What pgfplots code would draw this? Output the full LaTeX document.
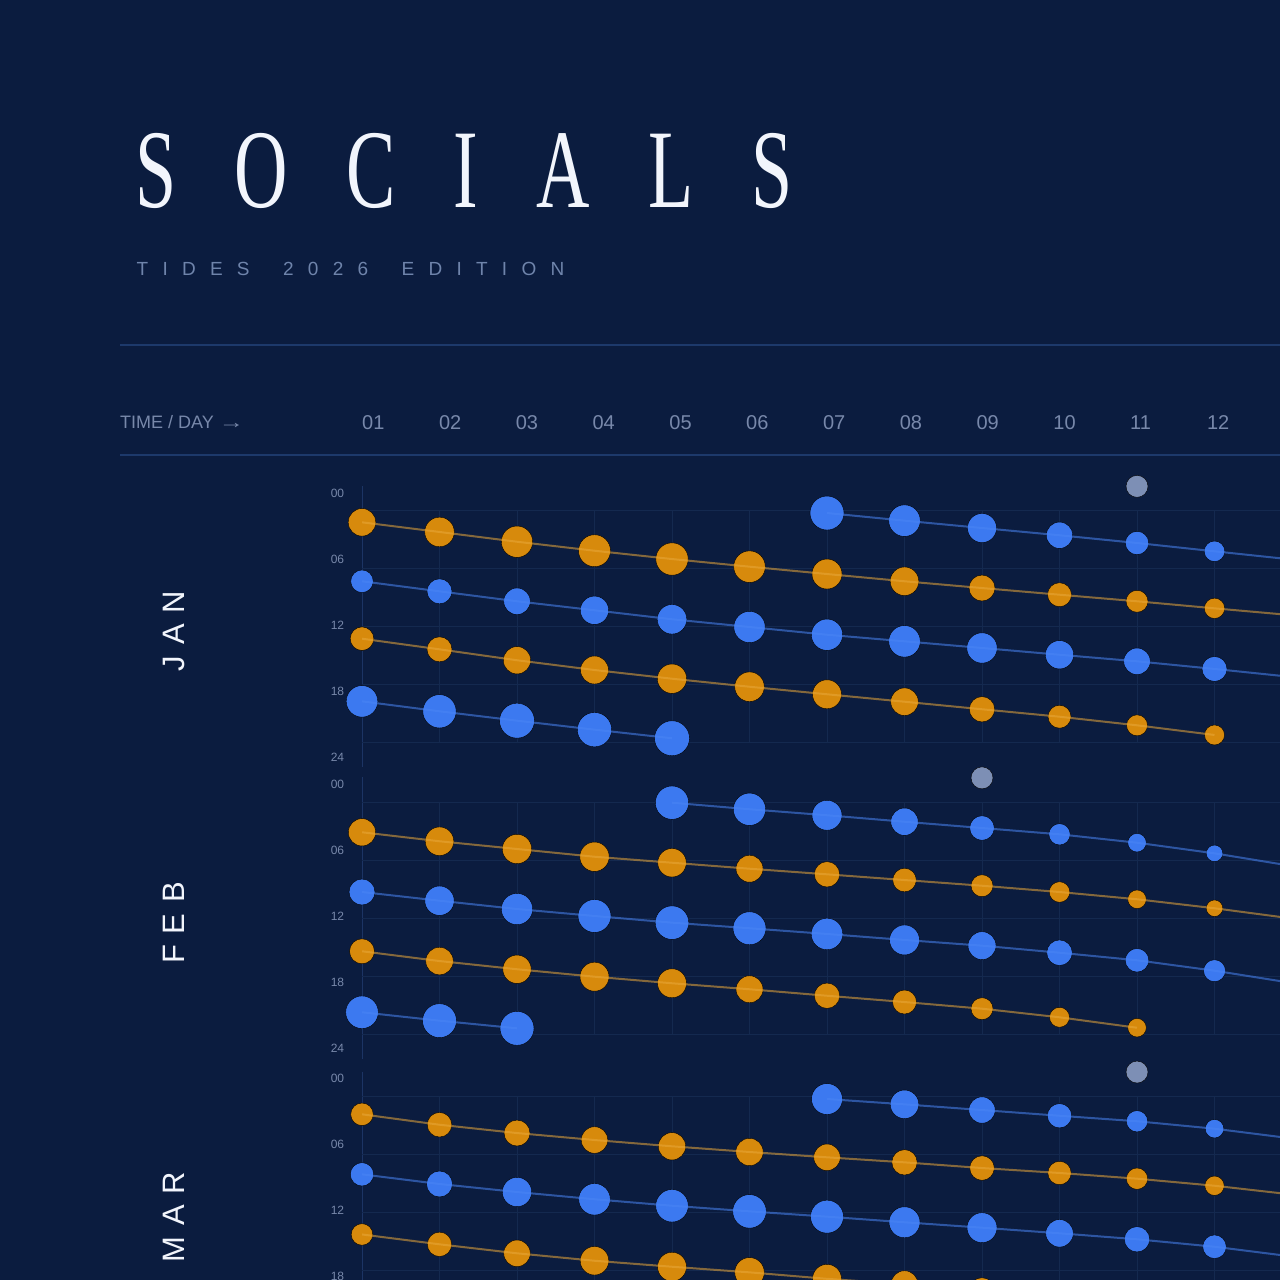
\documentclass[border=0pt]{standalone}
\usepackage{pgfplots}
\pgfplotsset{compat=1.18}
\usepackage{pgfplotstable}
\usepackage{fontspec}
\setmainfont{Liberation Sans}
\newfontfamily\titlefont[FakeStretch=0.66,LetterSpace=52]{Liberation Serif}
\newfontfamily\subfont[LetterSpace=75]{Liberation Sans}
\newfontfamily\monthfont[LetterSpace=35]{Liberation Sans}
\definecolor{bg}{HTML}{0B1C3F}
\definecolor{torange}{HTML}{D78A0C}
\definecolor{tblue}{HTML}{3C79F0}
\definecolor{torangeline}{HTML}{E8A83A}
\definecolor{tblueline}{HTML}{4A85F5}
\definecolor{tgrey}{HTML}{7D8FB5}
\definecolor{gridc}{HTML}{14294F}
\definecolor{spinec}{HTML}{1C3464}
\definecolor{rulec}{HTML}{1D396B}
\definecolor{textc}{HTML}{7888AA}
\definecolor{subc}{HTML}{6F84AB}
\definecolor{titlec}{HTML}{F2F5FC}

% ---------------- JAN ----------------
\pgfplotstableread{
d h r
7 0.21 17
8 1.00 15.8
9 1.76 14.6
10 2.51 13.2
11 3.31 11.7
12 4.17 10.3
13 5.02 9
}\janA
\pgfplotstableread{
d h r
1 1.17 13.8
2 2.17 14.8
3 3.18 15.7
4 4.11 16
5 4.97 16.2
6 5.76 15.8
7 6.52 15
8 7.27 14.3
9 7.97 13
10 8.66 12
11 9.34 11
12 10.07 10.2
13 10.78 9.4
}\janB
\pgfplotstableread{
d h r
1 7.27 11.3
2 8.31 12.5
3 9.34 13.3
4 10.27 14.2
5 11.20 14.8
6 12.00 15.7
7 12.80 15.7
8 13.48 15.8
9 14.17 15.2
10 14.87 14.2
11 15.55 13.3
12 16.34 12.5
13 17.17 11.7
}\janC
\pgfplotstableread{
d h r
1 13.21 11.8
2 14.31 12.5
3 15.44 13.7
4 16.45 14
5 17.35 14.7
6 18.18 14.8
7 18.96 14.5
8 19.73 13.8
9 20.51 12.7
10 21.28 11.5
11 22.17 10.5
12 23.17 10
}\janD
\pgfplotstableread{
d h r
1 19.69 15.8
2 20.72 16.7
3 21.69 17.5
4 22.62 17.2
5 23.51 17.5
}\janE
\pgfplotstableread{
d h r
11 -2.55 11
}\janG
% ---------------- FEB ----------------
\pgfplotstableread{
d h r
5 0.02 16.7
6 0.70 16.2
7 1.32 15
8 1.99 13.7
9 2.64 12.3
10 3.29 10.7
11 4.16 9.3
12 5.26 8.3
13 6.57 7.5
}\febA
\pgfplotstableread{
d h r
1 3.08 13.7
2 4.01 14.3
3 4.81 14.7
4 5.61 14.7
5 6.23 14.3
6 6.85 13.5
7 7.43 12.7
8 8.02 11.8
9 8.61 11
10 9.26 10.3
11 10.01 9.3
12 10.94 8.3
13 12.00 7.5
}\febB
\pgfplotstableread{
d h r
1 9.26 13
2 10.16 14.7
3 11.02 15.7
4 11.74 16.5
5 12.43 16.8
6 13.01 16.5
7 13.60 15.8
8 14.22 15
9 14.81 14
10 15.54 12.8
11 16.32 11.8
12 17.40 11
13 18.67 10.2
}\febC
\pgfplotstableread{
d h r
1 15.39 12.5
2 16.40 13.8
3 17.25 14.2
4 18.02 14.5
5 18.70 14.5
6 19.32 13.5
7 19.99 12.7
8 20.64 12
9 21.33 11
10 22.22 10
11 23.30 9.3
}\febD
\pgfplotstableread{
d h r
1 21.70 16.3
2 22.57 17
3 23.36 17
}\febE
\pgfplotstableread{
d h r
9 -2.55 11
}\febG
% ---------------- MAR ----------------
\pgfplotstableread{
d h r
7 0.24 15.5
8 0.79 14.3
9 1.38 13.2
10 1.97 12.2
11 2.54 10.7
12 3.31 9.3
13 4.32 8
}\marA
\pgfplotstableread{
d h r
1 1.82 11.3
2 2.90 12.3
3 3.76 13
4 4.48 13.3
5 5.13 13.7
6 5.72 13.7
7 6.27 13.3
8 6.79 12.7
9 7.38 12.3
10 7.89 11.7
11 8.48 10.7
12 9.21 9.7
13 10.12 8.8
}\marB
\pgfplotstableread{
d h r
1 8.03 11.7
2 9.03 13
3 9.86 14.7
4 10.61 15.8
5 11.28 16.3
6 11.86 16.8
7 12.41 16.5
8 12.99 15.5
9 13.55 15
10 14.13 13.8
11 14.75 12.7
12 15.52 11.8
13 16.53 11
}\marC
\pgfplotstableread{
d h r
1 14.25 10.8
2 15.27 12.2
3 16.20 13.3
4 16.97 14.3
5 17.59 14.5
6 18.17 14.8
7 18.84 14.5
8 19.40 13.5
9 20.07 13
10 20.72 12
11 21.45 11
12 22.27 10
}\marD
\pgfplotstableread{
d h r
11 -2.55 11
}\marG

\pgfplotsset{
  tideax/.style={
    scale only axis, width=918pt, height=281.3pt,
    xmin=1, xmax=12.845, ymin=-2.6, ymax=26.5, y dir=reverse,
    axis x line=none, axis y line*=left,
    axis line style={spinec, line width=1pt},
    xtick=\empty,
    ytick={-1.862,4.966,11.79,18.62,25.45},
    yticklabels={00,06,12,18,24},
    major tick length=0pt,
    yticklabel style={font=\fontsize{12}{12}\selectfont, text=textc, inner sep=0pt, xshift=-17.7pt},
    clip mode=individual,
    anchor=north west,
  },
  tline/.style={no marks, line width=2pt, draw=#1, draw opacity=0.55},
  tdots/.style={scatter, only marks, mark=*,
     point meta=\thisrow{r},
     scatter/use mapped color={draw=none, fill=#1},
     visualization depends on={\thisrow{r}\as\rr},
     scatter/@pre marker code/.append style={/tikz/mark size=\rr pt}},
}

\newcommand{\tidegrid}{%
  \pgfplotsinvokeforeach{0,6,12,18,24}{\draw[gridc, line width=1pt] (axis cs:1,##1) -- (axis cs:12.845,##1);}%
  \pgfplotsinvokeforeach{2,3,4,5,6,7,8,9,10,11,12}{\draw[gridc, line width=1pt] (axis cs:##1,0) -- (axis cs:##1,24);}%
}

\begin{document}
\begin{tikzpicture}
\path[use as bounding box] (0pt,0pt) rectangle (1280pt,1280pt);
\clip (0pt,0pt) rectangle (1280pt,1280pt);
\fill[bg] (0pt,0pt) rectangle (1280pt,1280pt);

% title block
\node[anchor=base west, inner sep=0pt, text=titlec, font=\titlefont\fontsize{112}{112}\selectfont] at (135pt,1072pt) {SOCIALS};
\node[anchor=base west, inner sep=0pt, text=subc, font=\subfont\fontsize{19}{19}\selectfont] at (136.5pt,1004pt) {TIDES\hspace{14pt} 2026\hspace{14pt} EDITION};
\draw[rulec, line width=1.5pt] (120pt,935pt) -- (1280pt,935pt);
\node[anchor=base west, inner sep=0pt, text=textc, font=\fontsize{18}{18}\selectfont] at (120pt,851pt) {TIME / DAY \scalebox{1.4}[1]{→}};
\foreach \d/\lab in {1/01,2/02,3/03,4/04,5/05,6/06,7/07,8/08,9/09,10/10,11/11,12/12}{
  \node[anchor=base west, inner sep=0pt, text=textc, font=\fontsize{20}{20}\selectfont] at ({362pt+(\d-1)*76.8pt},850pt) {\lab};
}
\draw[rulec, line width=1.5pt] (120pt,825pt) -- (1280pt,825pt);

% month labels
\node[rotate=90, inner sep=0pt, text=titlec, font=\monthfont\fontsize{31}{31}\selectfont] at (174pt,649pt) {JAN};
\node[rotate=90, inner sep=0pt, text=titlec, font=\monthfont\fontsize{31}{31}\selectfont] at (174pt,357pt) {FEB};
\node[rotate=90, inner sep=0pt, text=titlec, font=\monthfont\fontsize{31}{31}\selectfont] at (174pt,63pt) {MAR};

% JAN
\begin{axis}[tideax, at={(362pt,794.13pt)}]
\tidegrid
\addplot[tdots=torange] table[x=d,y=h] {\janB};
\addplot[tline=torangeline] table[x=d,y=h] {\janB};
\addplot[tdots=tblue] table[x=d,y=h] {\janC};
\addplot[tline=tblueline] table[x=d,y=h] {\janC};
\addplot[tdots=torange] table[x=d,y=h] {\janD};
\addplot[tline=torangeline] table[x=d,y=h] {\janD};
\addplot[tdots=tblue] table[x=d,y=h] {\janE};
\addplot[tline=tblueline] table[x=d,y=h] {\janE};
\addplot[tdots=tblue] table[x=d,y=h] {\janA};
\addplot[tline=tblueline] table[x=d,y=h] {\janA};
\addplot[tdots=tgrey] table[x=d,y=h] {\janG};
\end{axis}

% FEB
\begin{axis}[tideax, at={(362pt,502.63pt)}]
\tidegrid
\addplot[tdots=torange] table[x=d,y=h] {\febB};
\addplot[tline=torangeline] table[x=d,y=h] {\febB};
\addplot[tdots=tblue] table[x=d,y=h] {\febC};
\addplot[tline=tblueline] table[x=d,y=h] {\febC};
\addplot[tdots=torange] table[x=d,y=h] {\febD};
\addplot[tline=torangeline] table[x=d,y=h] {\febD};
\addplot[tdots=tblue] table[x=d,y=h] {\febE};
\addplot[tline=tblueline] table[x=d,y=h] {\febE};
\addplot[tdots=tblue] table[x=d,y=h] {\febA};
\addplot[tline=tblueline] table[x=d,y=h] {\febA};
\addplot[tdots=tgrey] table[x=d,y=h] {\febG};
\end{axis}

% MAR
\begin{axis}[tideax, at={(362pt,208.43pt)}]
\tidegrid
\addplot[tdots=torange] table[x=d,y=h] {\marB};
\addplot[tline=torangeline] table[x=d,y=h] {\marB};
\addplot[tdots=tblue] table[x=d,y=h] {\marC};
\addplot[tline=tblueline] table[x=d,y=h] {\marC};
\addplot[tdots=torange] table[x=d,y=h] {\marD};
\addplot[tline=torangeline] table[x=d,y=h] {\marD};
\addplot[tdots=tblue] table[x=d,y=h] {\marA};
\addplot[tline=tblueline] table[x=d,y=h] {\marA};
\addplot[tdots=tgrey] table[x=d,y=h] {\marG};
\end{axis}
\end{tikzpicture}
\end{document}
